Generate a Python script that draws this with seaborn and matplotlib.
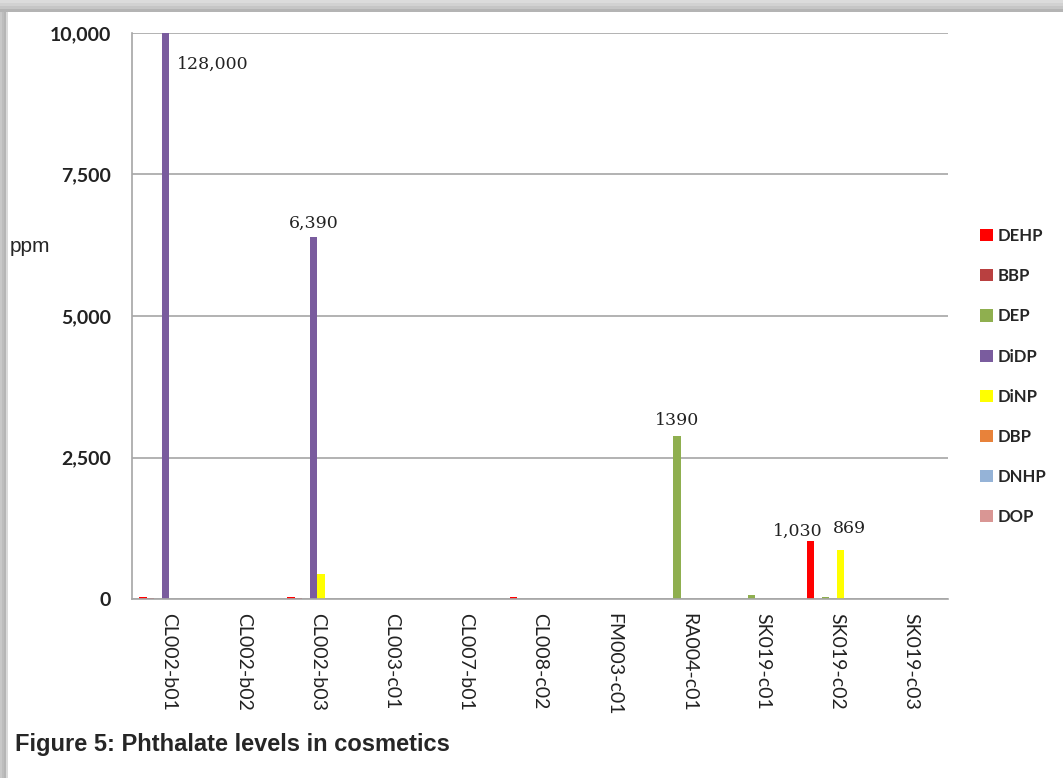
import pandas as pd
import matplotlib
matplotlib.use('Agg')
import matplotlib.pyplot as plt
import seaborn as sns
from matplotlib.patches import Rectangle, Patch

# Sample codes and phthalate levels (ppm)
samples = ['CL002-b01', 'CL002-b02', 'CL002-b03', 'CL003-c01', 'CL007-b01', 'CL008-c02',
           'FM003-c01', 'RA004-c01', 'SK019-c01', 'SK019-c02', 'SK019-c03']
phthalates = ['DEHP', 'BBP', 'DEP', 'DiDP', 'DiNP', 'DBP', 'DNHP', 'DOP']
DEHP = [30, 0, 30, 0, 0, 30, 0, 0, 0, 1030, 0]
BBP = [25, 0, 25, 0, 0, 0, 0, 0, 0, 0, 0]
DEP = [0, 0, 0, 0, 0, 0, 0, 2880, 70, 30, 0]   # RA004 bar is drawn taller than its "1390" label
DiDP = [128000, 0, 6390, 0, 0, 0, 0, 0, 0, 0, 0]
DiNP = [0, 0, 450, 0, 0, 0, 0, 0, 0, 869, 0]
DBP = [0] * 11
DNHP = [0] * 11
DOP = [0] * 11
colors = ['#FF0000', '#B94040', '#8FAF4F', '#7A5C9E', '#FFFF00', '#E8823A', '#95B3D7', '#D99694']
yticks = [0, 2500, 5000, 7500, 10000]
ra004_label = '1390'

# Build long-form table for seaborn
series = dict(zip(phthalates, [DEHP, BBP, DEP, DiDP, DiNP, DBP, DNHP, DOP]))
rows = []
for name, vals in series.items():
    for s, v in zip(samples, vals):
        rows.append((s, name, v))
df = pd.DataFrame(rows, columns=['Sample', 'Phthalate', 'ppm'])

sns.set_style('white')
plt.rcParams['font.family'] = ['Lato', 'DejaVu Sans']

fig = plt.figure(figsize=(10.63, 7.78), dpi=100)
ax = fig.add_axes([132 / 1063, 1 - 599 / 778, 816 / 1063, 566 / 778])

sns.barplot(data=df, x='Sample', y='ppm', hue='Phthalate', order=samples, hue_order=phthalates,
            palette=colors, width=0.81, linewidth=0, saturation=1, ax=ax)

ax.set_ylim(0, 10000)
ax.set_xlim(-0.5, len(samples) - 0.5)
ax.set_yticks(yticks)
ax.set_yticklabels([f'{t:,}' for t in yticks], fontsize=14, fontweight='bold', color='#222222')
ax.set_xticks(range(len(samples)))
ax.set_xticklabels(samples, rotation=-90, fontsize=14, color='#222222')
ax.tick_params(axis='y', length=4, color='#999999', pad=11)
ax.tick_params(axis='x', length=0, pad=10)
ax.set_xlabel('')
ax.set_ylabel('')
ax.yaxis.grid(True, color='#A6A6A6', linewidth=1.2)
ax.set_axisbelow(True)
for side in ['top', 'right']:
    ax.spines[side].set_visible(False)
ax.spines['left'].set_color('#A6A6A6')
ax.spines['bottom'].set_color('#A6A6A6')
ax.spines['left'].set_linewidth(1.2)
ax.spines['bottom'].set_linewidth(1.2)

# bar offsets within each group
bw = 0.81 / len(phthalates)
def bar_x(cat, ser):
    return cat - 0.405 + bw * (phthalates.index(ser) + 0.5)

# Data labels
lab = dict(fontsize=12.5, family='DejaVu Serif', color='#222222')
ax.text(bar_x(0, 'DiDP') + 0.15, 9600, f'{DiDP[0]:,}', ha='left', va='top', **lab)
ax.text(bar_x(2, 'DiDP'), DiDP[2] + 90, f'{DiDP[2]:,}', ha='center', va='bottom', **lab)
ax.text(bar_x(7, 'DEP'), DEP[7] + 120, ra004_label, ha='center', va='bottom', **lab)
ax.text(bar_x(9, 'DEHP') + 0.16, DEHP[9] + 10, f'{DEHP[9]:,}', ha='right', va='bottom', **lab)
ax.text(bar_x(9, 'DiNP') + 0.12, DiNP[9] + 230, f'{DiNP[9]:,}', ha='center', va='bottom', **lab)

# Legend on the right
if ax.get_legend() is not None:
    ax.get_legend().remove()
handles = [Patch(facecolor=c, edgecolor='none') for c in colors]
fig.legend(handles, phthalates, loc='upper left', bbox_to_anchor=(980 / 1063, 1 - 228 / 778),
           frameon=False, handlelength=0.75, handleheight=0.75, handletextpad=0.3,
           labelspacing=1.45, borderpad=0, borderaxespad=0,
           prop={'family': 'Lato', 'weight': 'bold', 'size': 12})

# Axis unit and caption
fig.text(10 / 1063, 1 - 247 / 778, 'ppm', fontsize=15, family='Liberation Sans', va='center', ha='left')
fig.text(15 / 1063, 1 - 745 / 778, 'Figure 5: Phthalate levels in cosmetics', fontsize=17,
         family='Liberation Sans', fontweight='bold', va='center', ha='left')

# Grey shadow frame on top and left edges
greys_top = ['#DCDCDC', '#D2D2D2', '#C6C6C6', '#B4B4B4']
for i, g in enumerate(greys_top):
    fig.add_artist(Rectangle((0, 1 - (i + 1) * 3 / 778), 1, 3 / 778, transform=fig.transFigure,
                             facecolor=g, edgecolor='none'))
greys_left = ['#C8C8C8', '#BDBDBD', '#B5B5B5', '#DADADA']
for i, g in enumerate(greys_left):
    fig.add_artist(Rectangle((i * 2 / 1063, 0), 2 / 1063, 1 - 12 / 778, transform=fig.transFigure,
                             facecolor=g, edgecolor='none'))

fig.savefig('out.png', dpi=100)
